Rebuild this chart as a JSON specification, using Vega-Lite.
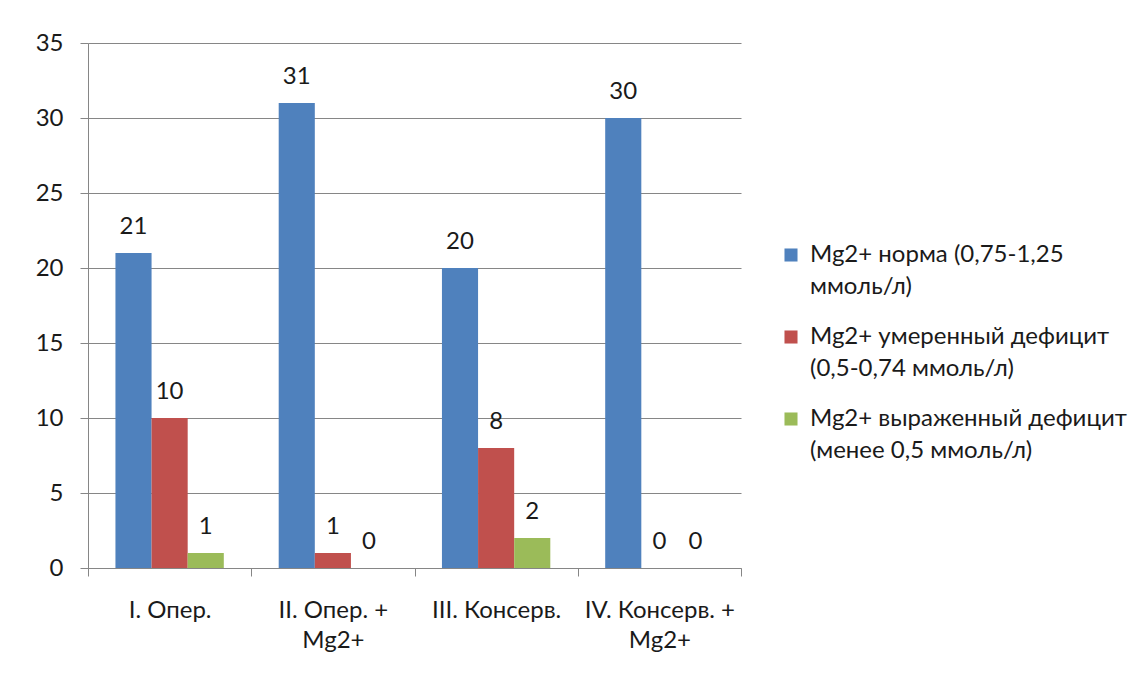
{
  "$schema": "https://vega.github.io/schema/vega-lite/v6.json",
  "width": 653,
  "height": 525,
  "autosize": {"type": "none"},
  "padding": {"left": 88, "top": 43, "right": 407, "bottom": 111},
  "background": "white",
  "config": {
    "font": "Lato",
    "view": {"stroke": null},
    "style": {"guide-label": {"lineHeight": 32}},
    "axis": {"labelFont": "Lato", "labelFontSize": 24, "labelColor": "#1a1a1a", "domainColor": "#868686", "tickColor": "#868686", "gridColor": "#868686", "tickSize": 8},
    "legend": {"labelFont": "Lato", "labelFontSize": 24, "labelColor": "#1a1a1a"}
  },
  "data": {
    "values": [
      {"group": "I. Опер.", "series": "s1", "value": 21},
      {"group": "I. Опер.", "series": "s2", "value": 10},
      {"group": "I. Опер.", "series": "s3", "value": 1},
      {"group": "II. Опер. + Mg2+", "series": "s1", "value": 31},
      {"group": "II. Опер. + Mg2+", "series": "s2", "value": 1},
      {"group": "II. Опер. + Mg2+", "series": "s3", "value": 0},
      {"group": "III. Консерв.", "series": "s1", "value": 20},
      {"group": "III. Консерв.", "series": "s2", "value": 8},
      {"group": "III. Консерв.", "series": "s3", "value": 2},
      {"group": "IV.  Консерв. + Mg2+", "series": "s1", "value": 30},
      {"group": "IV.  Консерв. + Mg2+", "series": "s2", "value": 0},
      {"group": "IV.  Консерв. + Mg2+", "series": "s3", "value": 0}
    ]
  },
  "encoding": {
    "x": {
      "field": "group",
      "type": "nominal",
      "sort": null,
      "scale": {"paddingInner": 0, "paddingOuter": 0},
      "axis": {
        "title": null,
        "labelAngle": 0,
        "tickBand": "extent",
        "grid": false,
        "labelPadding": 22,
        "labelLineHeight": 30,
        "labelExpr": "datum.label == 'II. Опер. + Mg2+' ? ['II. Опер. +', 'Mg2+'] : datum.label == 'IV.  Консерв. + Mg2+' ? ['IV.  Консерв. +', 'Mg2+'] : datum.label"
      }
    },
    "xOffset": {"field": "series", "type": "nominal", "scale": {"paddingInner": 0, "paddingOuter": 0.76}},
    "y": {
      "field": "value",
      "type": "quantitative",
      "scale": {"domain": [0, 35]},
      "axis": {"title": null, "values": [0, 5, 10, 15, 20, 25, 30, 35], "labelPadding": 17, "grid": true}
    }
  },
  "layer": [
    {
      "mark": {"type": "bar"},
      "encoding": {
        "color": {
          "field": "series",
          "type": "nominal",
          "scale": {"domain": ["s1", "s2", "s3"], "range": ["#4F81BD", "#C0504D", "#9BBB59"]},
          "legend": {
            "title": null,
            "orient": "none",
            "legendX": 691,
            "legendY": 200,
            "symbolType": "square",
            "symbolSize": 170,
            "symbolStrokeWidth": 0,
            "rowPadding": 26,
            "labelOffset": 7,
            "labelLimit": 500,
            "labelExpr": "datum.label == 's1' ? ['Mg2+  норма (0,75-1,25', 'ммоль/л)'] : datum.label == 's2' ? ['Mg2+  умеренный дефицит', '(0,5-0,74 ммоль/л)'] : ['Mg2+  выраженный дефицит', '(менее 0,5 ммоль/л)']"
          }
        }
      }
    },
    {
      "mark": {"type": "text", "baseline": "bottom", "dy": -14, "fontSize": 24, "font": "Lato", "color": "#1a1a1a"},
      "encoding": {"text": {"field": "value", "type": "quantitative"}}
    }
  ]
}
